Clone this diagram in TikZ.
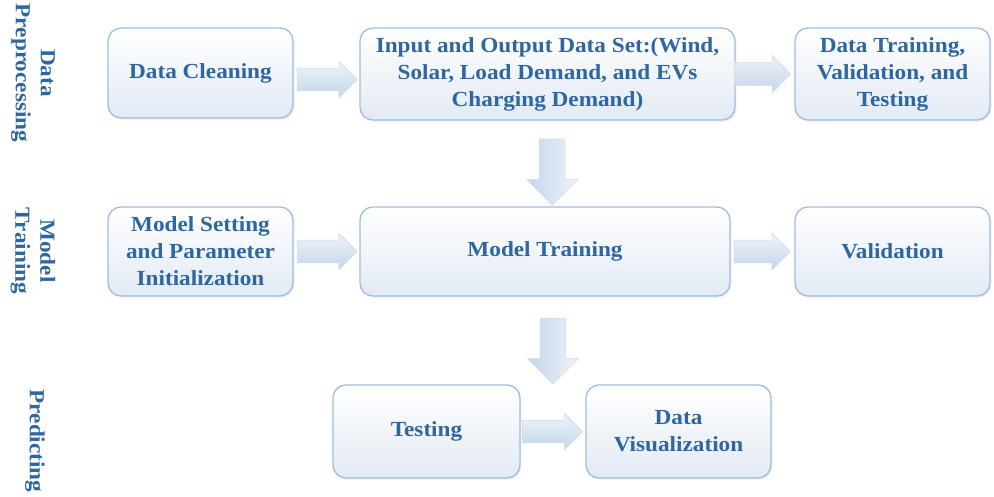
\documentclass[tikz,border=0pt]{standalone}
\usepackage{fontspec}
\setmainfont[FakeStretch=1.08]{Liberation Serif}
\usetikzlibrary{shapes.arrows,shadows,calc}
\definecolor{txtblue}{RGB}{46,102,160}
\definecolor{boxborder}{RGB}{160,190,220}
\definecolor{boxbottom}{RGB}{226,234,244}
\definecolor{arrtop}{RGB}{238,243,250}
\definecolor{arrbot}{RGB}{196,214,234}
\definecolor{arrborder}{RGB}{205,219,236}
\tikzset{
  box/.style={rectangle, rounded corners=13pt, draw=boxborder, line width=1.3pt,
    top color=white, bottom color=boxbottom, align=center, text=txtblue,
    font=\fontsize{21.5}{27}\selectfont\bfseries, inner sep=0pt,
    drop shadow={shadow xshift=1.5pt, shadow yshift=-2pt, opacity=0.18, fill=boxborder}},
  sidelabel/.style={rotate=-90, align=center, text=txtblue,
    font=\fontsize{21.5}{25}\selectfont\bfseries, inner sep=0pt},
  rarr/.style={single arrow, draw=arrborder, line width=0.6pt, top color=arrtop, bottom color=arrbot,
    minimum height=60pt, single arrow head extend=7pt,
    single arrow head indent=0pt, inner sep=0pt},
  darr/.style={single arrow, draw=arrborder, line width=0.6pt, left color=arrbot, right color=arrtop,
    minimum height=66pt, single arrow head extend=12.5pt,
    single arrow head indent=0pt, inner sep=0pt, rotate=-90}
}
\newcommand\rshaft{\rule{0pt}{22pt}}
\newcommand\dshaft{\rule{0pt}{25pt}}
\begin{document}
\begin{tikzpicture}[x=1pt,y=-1pt]
\path[use as bounding box, fill=white] (0,0) rectangle (994,497);
% boxes
\node[box, minimum width=185pt, minimum height=90pt] (clean) at (200.5,73) {Data Cleaning};
\node[box, minimum width=375pt, minimum height=92pt] (io) at (547.5,74) {Input and Output Data Set:(Wind,\\Solar, Load Demand, and EVs\\Charging Demand)};
\node[box, minimum width=195pt, minimum height=92pt] (dtv) at (892.5,74) {Data Training,\\Validation, and\\Testing};
\node[box, minimum width=185pt, minimum height=89pt] (mset) at (200.5,251.5) {Model Setting\\and Parameter\\Initialization};
\node[box, minimum width=370pt, minimum height=89pt] (mtrain) at (545,251.5) {Model Training};
\node[box, minimum width=195pt, minimum height=89pt] (val) at (892.5,251.5) {Validation};
\node[box, minimum width=187pt, minimum height=93pt] (test) at (426.5,431.5) {Testing};
\node[box, minimum width=185pt, minimum height=93pt] (viz) at (678.5,431.5) {Data\\Visualization};
% side labels
\node[sidelabel] (lab1) at (33,73) {Data\\Preprocessing};
\node[sidelabel] (lab2) at (33,251) {Model\\Training};
\node[sidelabel] (lab3) at (35,441) {Predicting};
% block arrows
\node[rarr] (a1) at ($(clean.east)!0.5!(io.west)+(-5,6)$) {\rshaft};
\node[rarr, minimum height=56pt] (a2) at ($(io.east)!0.5!(dtv.west)+(-8,0)$) {\rshaft};
\node[rarr] (a3) at ($(mset.east)!0.5!(mtrain.west)+(-5,0)$) {\rshaft};
\node[rarr, minimum height=56pt] (a4) at ($(mtrain.east)!0.5!(val.west)+(-6,0)$) {\rshaft};
\node[rarr] (a5) at ($(test.east)!0.5!(viz.west)+(-6,0)$) {\rshaft};
\node[darr] (d1) at ($(io.south)!0.5!(mtrain.north)+(6,2)$) {\dshaft};
\node[darr] (d2) at ($(mtrain.south)+(8,48)$) {\dshaft};
\end{tikzpicture}
\end{document}
